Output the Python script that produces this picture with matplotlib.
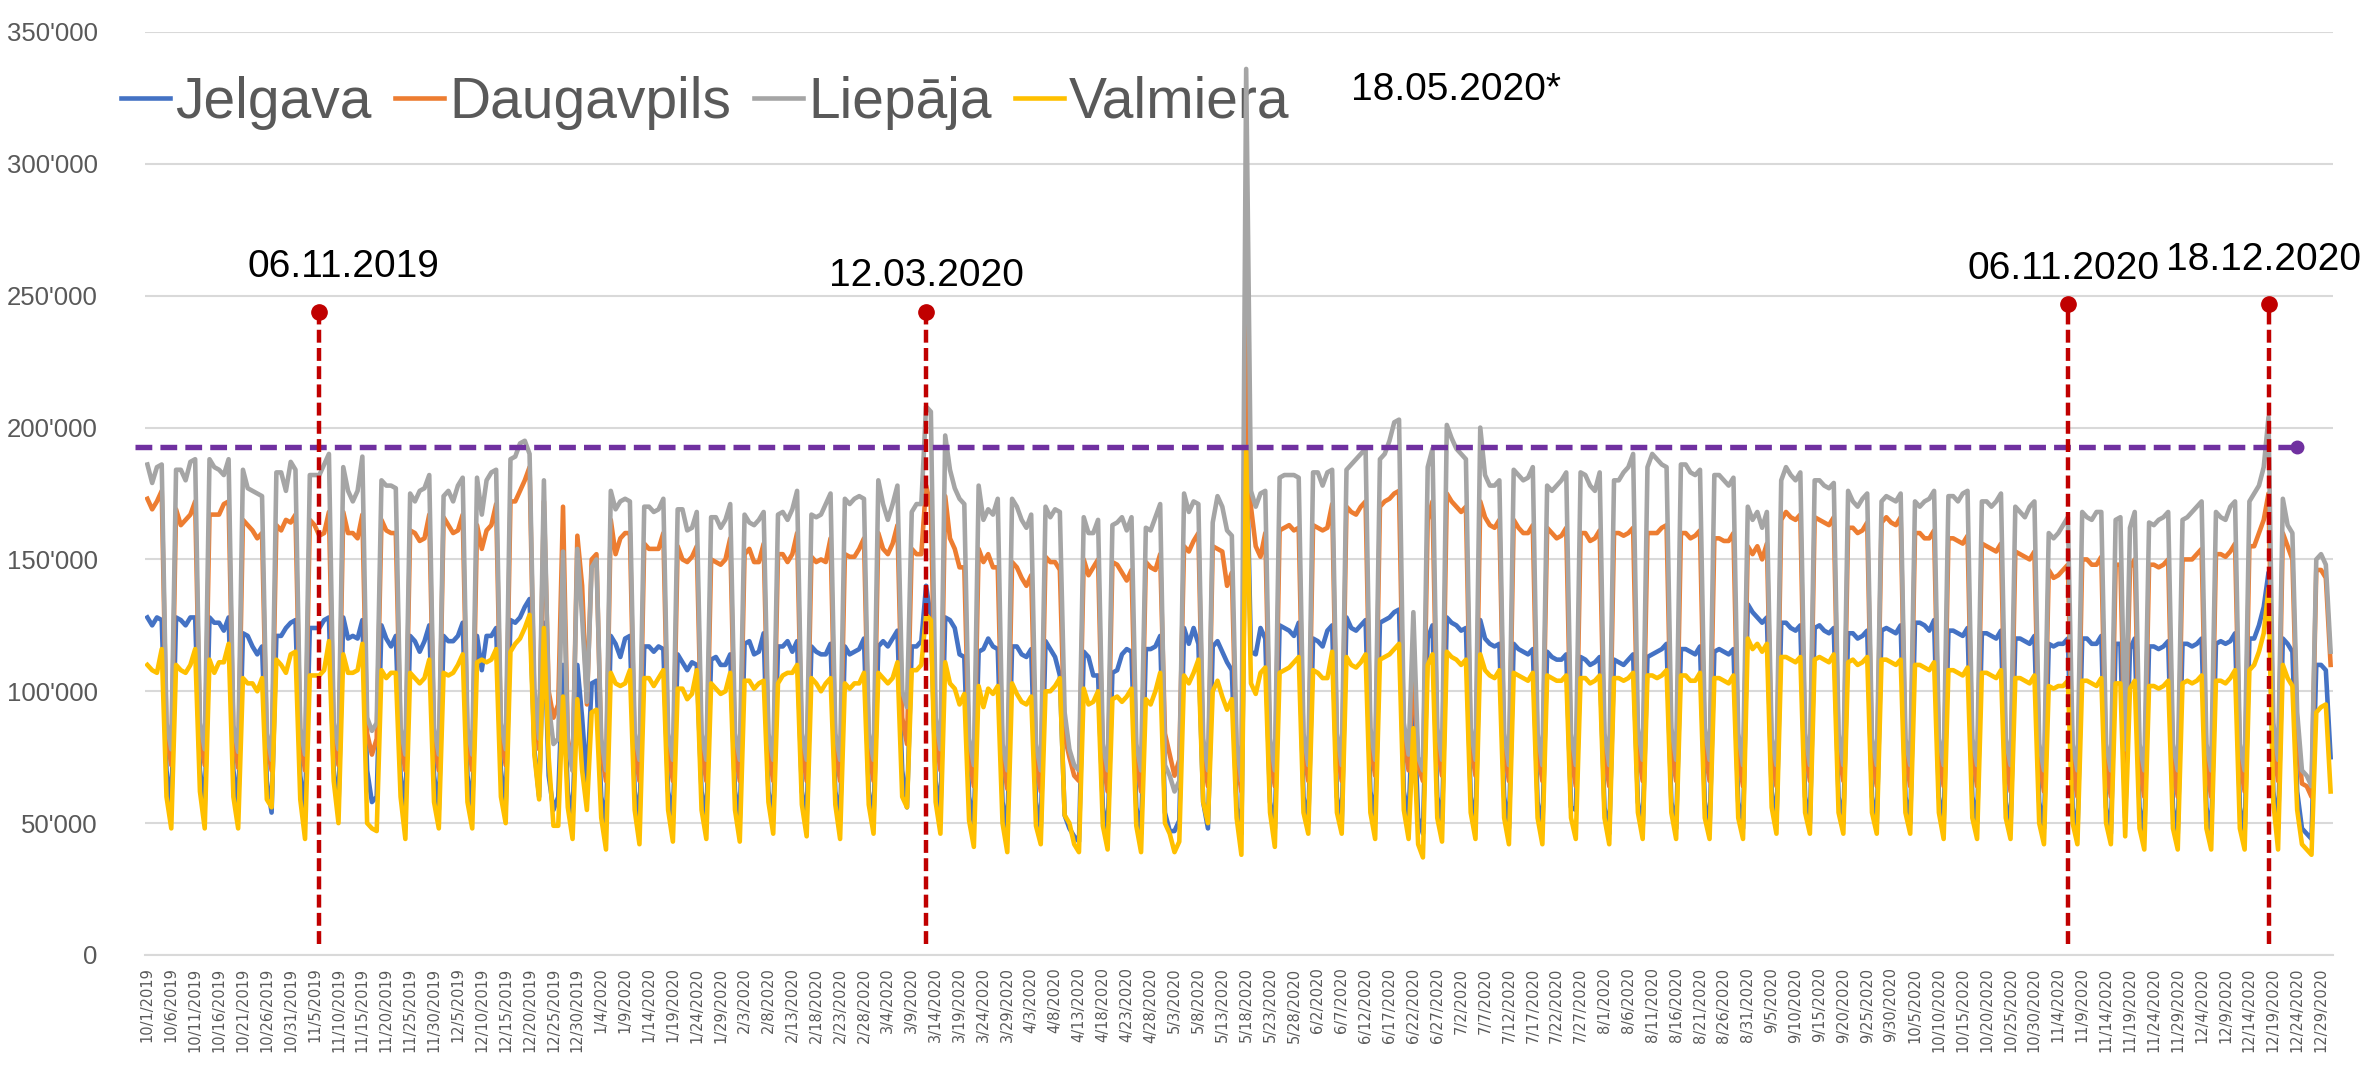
import matplotlib.pyplot as plt
import pandas as pd

# one row per week, Tuesday..Monday, values in thousands
jelgava = [
    128, 125, 128, 127, 70, 56, 128,
    127, 125, 128, 128, 70, 56, 128,
    126, 126, 123, 128, 70, 56, 122,
    121, 117, 114, 117, 66, 54, 121,
    121, 124, 126, 127, 68, 55, 124,
    124, 124, 127, 128, 70, 56, 128,
    120, 121, 120, 127, 70, 58, 60,
    125, 120, 117, 121, 68, 56, 121,
    119, 115, 119, 125, 68, 55, 121,
    119, 119, 121, 126, 68, 56, 121,
    108, 121, 121, 124, 70, 56, 127,
    126, 128, 132, 135, 78, 60, 126,
    68, 55, 60, 110, 62, 52, 110,
    90, 65, 103, 104, 60, 50, 121,
    118, 113, 120, 121, 62, 52, 117,
    117, 115, 117, 116, 62, 52, 114,
    111, 108, 111, 110, 62, 52, 112,
    113, 110, 110, 114, 62, 52, 118,
    119, 114, 115, 122, 62, 52, 117,
    117, 119, 115, 119, 62, 52, 117,
    115, 114, 114, 118, 62, 52, 117,
    114, 115, 116, 120, 62, 52, 117,
    119, 117, 120, 123, 70, 56, 117,
    117, 119, 140, 128, 66, 54, 128,
    127, 124, 114, 113, 60, 50, 115,
    116, 120, 117, 116, 58, 48, 117,
    117, 114, 113, 116, 58, 48, 119,
    116, 113, 106, 53, 48, 45, 43,
    115, 113, 106, 106, 56, 46, 107,
    108, 114, 116, 115, 56, 46, 116,
    116, 117, 121, 54, 47, 47, 51,
    124, 118, 124, 118, 58, 48, 117,
    119, 115, 111, 108, 56, 46, 200,
    115, 114, 124, 120, 58, 48, 125,
    124, 123, 121, 126, 60, 50, 120,
    119, 117, 123, 125, 60, 50, 128,
    124, 123, 125, 127, 62, 52, 126,
    127, 128, 130, 131, 62, 52, 100,
    52, 46, 120, 125, 60, 50, 128,
    126, 125, 123, 124, 60, 50, 127,
    120, 118, 117, 118, 60, 48, 118,
    116, 115, 114, 116, 58, 48, 115,
    113, 112, 112, 114, 56, 55, 113,
    112, 110, 111, 113, 56, 46, 112,
    111, 110, 112, 114, 58, 48, 113,
    114, 115, 116, 118, 58, 48, 116,
    116, 115, 114, 117, 58, 48, 115,
    116, 115, 114, 116, 58, 48, 133,
    130, 128, 126, 128, 62, 50, 126,
    126, 124, 123, 125, 60, 50, 124,
    125, 123, 122, 124, 60, 50, 122,
    122, 120, 121, 123, 60, 50, 123,
    124, 123, 122, 125, 60, 50, 126,
    126, 125, 123, 127, 60, 50, 123,
    123, 122, 121, 124, 60, 50, 122,
    122, 121, 120, 123, 58, 48, 120,
    120, 119, 118, 121, 58, 48, 118,
    117, 118, 118, 120, 56, 46, 120,
    120, 118, 118, 121, 56, 46, 118,
    118, 52, 116, 120, 56, 46, 117,
    117, 116, 117, 119, 56, 46, 118,
    118, 117, 118, 120, 56, 46, 118,
    119, 118, 119, 122, 56, 46, 120,
    120, 125, 132, 145, 62, 48, 120,
    118, 115, 62, 48, 46, 44, 110,
    110, 108, 75,
]

daugavpils = [
    173, 169, 172, 176, 84, 72, 169,
    163, 165, 167, 172, 84, 72, 167,
    167, 167, 171, 172, 83, 71, 165,
    163, 161, 158, 160, 80, 70, 163,
    161, 165, 164, 167, 82, 70, 165,
    163, 159, 160, 168, 84, 72, 168,
    160, 160, 158, 167, 84, 76, 82,
    165, 161, 160, 160, 82, 70, 161,
    160, 157, 158, 167, 82, 70, 166,
    163, 160, 161, 167, 82, 70, 163,
    154, 161, 163, 171, 84, 72, 172,
    172, 176, 180, 185, 95, 78, 172,
    100, 90, 95, 170, 82, 70, 159,
    140, 95, 150, 152, 78, 66, 165,
    152, 158, 160, 160, 78, 66, 156,
    154, 154, 154, 160, 78, 66, 155,
    150, 149, 151, 155, 78, 66, 150,
    149, 148, 150, 158, 78, 66, 152,
    154, 149, 149, 156, 78, 66, 152,
    152, 149, 152, 160, 78, 66, 151,
    149, 150, 149, 158, 78, 66, 152,
    151, 151, 154, 158, 78, 66, 160,
    154, 152, 156, 163, 90, 80, 154,
    152, 152, 178, 170, 84, 70, 174,
    158, 154, 147, 147, 76, 64, 154,
    149, 152, 147, 147, 75, 63, 149,
    147, 143, 140, 144, 74, 62, 151,
    149, 149, 146, 83, 75, 68, 66,
    150, 144, 147, 150, 74, 62, 149,
    148, 145, 142, 146, 74, 62, 149,
    147, 146, 152, 84, 76, 68, 74,
    155, 153, 157, 160, 76, 64, 155,
    154, 153, 140, 145, 74, 62, 240,
    170, 155, 151, 160, 76, 64, 161,
    162, 163, 161, 162, 78, 66, 163,
    162, 161, 162, 171, 78, 66, 170,
    168, 167, 170, 172, 80, 68, 170,
    172, 173, 175, 176, 82, 70, 110,
    72, 66, 165, 172, 80, 68, 175,
    172, 170, 168, 170, 80, 68, 172,
    166, 163, 162, 165, 78, 66, 165,
    162, 160, 160, 163, 78, 66, 162,
    160, 158, 159, 162, 76, 64, 160,
    160, 157, 158, 161, 76, 64, 160,
    160, 159, 160, 162, 78, 66, 160,
    160, 160, 162, 163, 78, 66, 160,
    160, 158, 159, 161, 78, 66, 158,
    158, 157, 157, 160, 76, 64, 155,
    152, 155, 150, 156, 76, 64, 165,
    168, 166, 165, 167, 78, 66, 166,
    165, 164, 163, 166, 78, 66, 162,
    162, 160, 161, 164, 76, 64, 164,
    166, 164, 163, 166, 76, 64, 160,
    160, 158, 158, 161, 76, 64, 158,
    158, 157, 156, 159, 76, 64, 156,
    155, 154, 153, 156, 74, 62, 153,
    152, 151, 150, 153, 74, 62, 146,
    143, 144, 146, 148, 72, 60, 150,
    150, 148, 148, 151, 72, 60, 148,
    148, 70, 147, 150, 72, 60, 148,
    148, 147, 148, 150, 72, 60, 150,
    150, 150, 152, 154, 72, 60, 152,
    152, 151, 153, 156, 74, 62, 155,
    155, 160, 165, 175, 80, 66, 160,
    155, 150, 85, 65, 64, 60, 146,
    146, 143, 110,
]

liepaja = [
    186, 179, 185, 186, 88, 78, 184,
    184, 180, 187, 188, 88, 78, 188,
    185, 184, 182, 188, 87, 77, 184,
    177, 176, 175, 174, 84, 74, 183,
    183, 176, 187, 184, 86, 76, 182,
    182, 182, 186, 190, 88, 78, 185,
    176, 172, 176, 189, 90, 85, 88,
    180, 178, 178, 177, 86, 76, 175,
    172, 176, 177, 182, 86, 76, 174,
    176, 172, 178, 181, 86, 76, 181,
    167, 180, 183, 184, 88, 78, 188,
    189, 194, 195, 190, 101, 82, 180,
    95, 80, 82, 153, 80, 70, 154,
    128, 96, 147, 150, 82, 70, 176,
    169, 172, 173, 172, 84, 74, 170,
    170, 168, 169, 173, 84, 74, 169,
    169, 161, 162, 168, 84, 74, 166,
    166, 162, 165, 171, 84, 74, 167,
    164, 163, 165, 168, 84, 74, 167,
    168, 165, 169, 176, 84, 74, 167,
    166, 167, 171, 175, 84, 74, 173,
    171, 173, 174, 173, 84, 74, 180,
    171, 165, 171, 178, 100, 94, 168,
    171, 171, 208, 206, 90, 78, 197,
    184, 177, 173, 171, 82, 72, 178,
    165, 169, 167, 173, 80, 70, 173,
    170, 165, 162, 167, 80, 70, 170,
    166, 169, 168, 92, 78, 72, 70,
    166, 160, 160, 165, 80, 70, 163,
    164, 166, 161, 166, 80, 70, 162,
    161, 166, 171, 72, 68, 62, 66,
    175, 168, 172, 171, 82, 70, 164,
    174, 170, 161, 159, 80, 66, 336,
    176, 170, 175, 176, 82, 70, 181,
    182, 182, 182, 181, 84, 72, 183,
    183, 178, 183, 184, 84, 72, 184,
    186, 188, 190, 192, 86, 74, 188,
    190, 195, 202, 203, 88, 76, 130,
    75, 70, 185, 192, 86, 74, 201,
    196, 192, 190, 188, 86, 74, 200,
    182, 178, 178, 180, 84, 72, 184,
    182, 180, 181, 185, 84, 72, 178,
    176, 178, 180, 183, 84, 72, 183,
    182, 178, 176, 183, 84, 72, 180,
    180, 183, 185, 190, 86, 74, 185,
    190, 188, 186, 185, 86, 74, 186,
    186, 183, 182, 184, 86, 74, 182,
    182, 180, 178, 181, 84, 72, 170,
    165, 168, 162, 168, 82, 72, 180,
    185, 182, 180, 183, 84, 72, 180,
    180, 178, 177, 179, 84, 72, 176,
    172, 170, 173, 175, 82, 72, 172,
    174, 173, 172, 175, 82, 72, 172,
    170, 172, 173, 176, 82, 72, 174,
    174, 172, 175, 176, 82, 72, 172,
    172, 170, 172, 175, 82, 72, 170,
    168, 166, 170, 172, 80, 70, 160,
    158, 160, 163, 166, 80, 70, 168,
    166, 165, 168, 168, 80, 70, 165,
    166, 78, 162, 168, 80, 70, 164,
    163, 165, 166, 168, 80, 70, 165,
    166, 168, 170, 172, 80, 70, 168,
    166, 165, 170, 172, 80, 70, 172,
    175, 178, 185, 204, 88, 74, 173,
    163, 160, 92, 70, 68, 64, 150,
    152, 148, 115,
]

valmiera = [
    110, 108, 107, 116, 60, 48, 110,
    108, 107, 110, 116, 62, 48, 112,
    107, 111, 111, 118, 60, 48, 105,
    103, 103, 100, 105, 59, 56, 112,
    110, 107, 114, 115, 59, 44, 106,
    106, 106, 108, 119, 66, 50, 114,
    107, 107, 108, 118, 50, 48, 47,
    108, 105, 107, 107, 60, 44, 107,
    105, 103, 105, 112, 58, 48, 107,
    106, 107, 110, 114, 58, 48, 111,
    112, 111, 112, 116, 60, 50, 115,
    118, 120, 124, 129, 76, 59, 124,
    75, 49, 49, 98, 56, 44, 97,
    70, 55, 92, 93, 52, 40, 107,
    103, 102, 103, 108, 55, 42, 105,
    105, 102, 105, 108, 55, 43, 101,
    101, 97, 99, 108, 55, 44, 103,
    101, 99, 100, 107, 55, 43, 104,
    104, 101, 103, 104, 58, 46, 103,
    106, 107, 107, 110, 57, 45, 105,
    103, 100, 103, 105, 57, 44, 103,
    101, 103, 103, 107, 57, 46, 107,
    105, 103, 105, 111, 60, 56, 108,
    108, 110, 129, 127, 58, 46, 111,
    103, 101, 95, 99, 51, 41, 102,
    94, 101, 99, 102, 50, 39, 103,
    99, 96, 95, 98, 49, 42, 100,
    100, 102, 105, 53, 50, 42, 39,
    101, 95, 96, 100, 49, 40, 97,
    98, 96, 98, 101, 49, 39, 97,
    95, 100, 107, 50, 46, 39, 43,
    106, 103, 107, 112, 58, 50, 100,
    104, 98, 93, 97, 52, 38, 191,
    103, 99, 107, 109, 54, 41, 107,
    108, 109, 111, 113, 54, 46, 108,
    107, 105, 105, 115, 54, 46, 113,
    110, 109, 111, 114, 54, 44, 112,
    113, 114, 116, 118, 55, 44, 86,
    42, 37, 110, 114, 52, 43, 115,
    113, 112, 110, 112, 54, 44, 114,
    108, 106, 105, 108, 52, 42, 107,
    106, 105, 104, 107, 52, 42, 106,
    105, 104, 104, 106, 52, 44, 105,
    105, 103, 104, 106, 52, 42, 105,
    105, 104, 105, 107, 54, 44, 106,
    106, 105, 106, 108, 54, 44, 106,
    106, 104, 104, 107, 52, 44, 105,
    105, 104, 103, 106, 52, 44, 120,
    116, 118, 115, 118, 56, 46, 113,
    113, 112, 111, 113, 54, 46, 112,
    113, 112, 111, 114, 54, 46, 111,
    112, 110, 111, 113, 54, 46, 112,
    112, 111, 110, 112, 54, 46, 110,
    110, 109, 108, 111, 54, 44, 108,
    108, 107, 106, 109, 52, 44, 107,
    107, 106, 105, 108, 52, 44, 105,
    105, 104, 103, 106, 50, 42, 102,
    101, 102, 102, 104, 50, 42, 104,
    104, 103, 102, 105, 50, 42, 103,
    103, 45, 101, 104, 48, 40, 102,
    102, 101, 102, 104, 48, 40, 103,
    104, 103, 104, 106, 48, 40, 104,
    104, 103, 105, 108, 48, 40, 108,
    110, 115, 122, 139, 58, 40, 110,
    105, 102, 55, 42, 40, 38, 92,
    94, 95, 62,
]

names = ["Jelgava", "Daugavpils", "Liepāja", "Valmiera"]
colors = ["#4472C4", "#ED7D31", "#A5A5A5", "#FFC000"]

event_labels = ["06.11.2019", "12.03.2020", "06.11.2020", "18.12.2020"]
event_dates = ["2019-11-06", "2020-03-12", "2020-11-06", "2020-12-18"]
event_tops = [244000, 244000, 247000, 247000]
spike_label = "18.05.2020*"
limit = 192500

dates = pd.date_range("2019-10-01", "2020-12-31", freq="D")
day_labels = [f"{d.month}/{d.day}/{d.year}" for d in dates]
x = list(range(len(dates)))

SANS = ["Liberation Sans", "DejaVu Sans"]
GREY_TXT = "#595959"

W, H = 2366, 1074
fig = plt.figure(figsize=(W / 100, H / 100), dpi=100)
ax = fig.add_axes([145 / W, 1 - 955 / H, 2188 / W, 923 / H])

for vals, name, col in zip([jelgava, daugavpils, liepaja, valmiera], names, colors):
    assert len(vals) == len(dates)
    ax.plot(x, [v * 1000 for v in vals], color=col, lw=3.3, label=name,
            solid_joinstyle="round", zorder=2)

ax.set_xlim(-0.5, len(dates) - 0.5)
ax.set_ylim(0, 350000)
yt = list(range(0, 350001, 50000))
ax.set_yticks(yt)
ax.set_yticklabels([f"{v:,}".replace(",", "'") for v in yt],
                   fontsize=18.5, color=GREY_TXT, fontfamily=SANS)
ax.set_xticks(x[::5])
ax.set_xticklabels(day_labels[::5], rotation=90, fontsize=10.5,
                   color=GREY_TXT, fontfamily="DejaVu Sans")
ax.tick_params(axis="both", length=0)
ax.tick_params(axis="y", pad=34)
ax.tick_params(axis="x", pad=9)
ax.grid(axis="y", color="#D9D9D9", lw=1.5)
ax.set_axisbelow(True)
for s in ["top", "right", "left"]:
    ax.spines[s].set_visible(False)
ax.spines["bottom"].set_color("#D9D9D9")
ax.spines["bottom"].set_linewidth(1.5)

# event markers
red = "#C00000"
text_shift = [5, 0, -1, -1]
text_y = [261000, 257500, 260000, 263500]
for lab, d, top, dx, ty in zip(event_labels, event_dates, event_tops, text_shift, text_y):
    xi = dates.get_loc(pd.Timestamp(d))
    ax.plot([xi, xi], [4000, top], color=red, lw=3.2, dashes=(2.9, 1.2), zorder=5)
    ax.plot([xi], [top], "o", color=red, ms=11, zorder=6)
    ax.text(xi + dx, ty, lab, ha="center", va="center", fontsize=28,
            fontfamily=SANS, color="black")

spike_i = x[liepaja.index(max(liepaja))]
ax.text(spike_i + 44, 328000, spike_label, ha="center", va="center",
        fontsize=28, fontfamily=SANS, color="black")

# threshold line
purple = "#7030A0"
ax.plot([-0.0046, 0.9835], [limit, limit], transform=ax.get_yaxis_transform(),
        clip_on=False, color=purple, lw=3.9, dashes=(3.1, 1.5), zorder=4)
ax.plot([0.9835], [limit], "o", transform=ax.get_yaxis_transform(),
        clip_on=False, color=purple, ms=9, zorder=4)

leg = ax.legend(loc="center left", bbox_to_anchor=(121 / W, 1 - 103 / H),
                bbox_transform=fig.transFigure, ncol=4, frameon=False,
                prop={"family": SANS, "size": 41}, labelcolor=GREY_TXT,
                handlelength=0.86, handletextpad=0.09, columnspacing=0.41,
                borderpad=0, borderaxespad=0)
leg.set_zorder(1.5)

fig.savefig("out.png", dpi=100)
